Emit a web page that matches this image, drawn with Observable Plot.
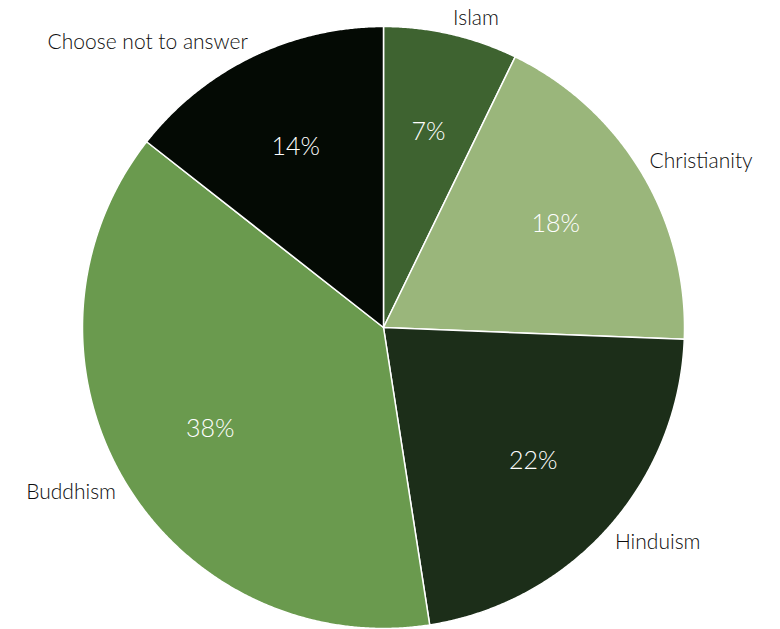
<!DOCTYPE html>
<html>
<head>
<meta charset="utf-8">
<script src="https://cdn.jsdelivr.net/npm/d3@7"></script>
<script src="https://cdn.jsdelivr.net/npm/@observablehq/plot@0.6"></script>
<style>
  html, body { margin: 0; padding: 0; background: #fff; }
  #chart svg { display: block; }
</style>
</head>
<body>
<div id="chart"></div>
<script>
// ---- data ----
const categories = ["Islam", "Christianity", "Hinduism", "Buddhism", "Choose not to answer"];
const shares = [7.2, 18.4, 21.9, 38.0, 14.4];
const percentLabels = ["7%", "18%", "22%", "38%", "14%"];
const sliceColors = ["#3e6330", "#9ab67b", "#1c2e19", "#6a9a4e", "#040a04"];

// ---- geometry (pie layout from d3, drawn through Plot scales) ----
const arcs = d3.pie().sort(null).startAngle(0).endAngle(2 * Math.PI)(shares);
const polyPoints = [];
arcs.forEach((a, i) => {
  const cat = categories[i];
  polyPoints.push({cat, x: 0, y: 0});
  const n = Math.max(2, Math.ceil((a.endAngle - a.startAngle) / 0.005));
  for (let k = 0; k <= n; k++) {
    const t = a.startAngle + (a.endAngle - a.startAngle) * k / n;
    polyPoints.push({cat, x: Math.sin(t), y: Math.cos(t)});
  }
});
const mid = arcs.map(a => (a.startAngle + a.endAngle) / 2);
const inner = arcs.map((a, i) => ({label: percentLabels[i], x: 0.667 * Math.sin(mid[i]), y: 0.667 * Math.cos(mid[i])}));
const outer = arcs.map((a, i) => ({label: categories[i], x: 1.03 * Math.sin(mid[i]), y: 1.03 * Math.cos(mid[i])}));

// outside labels: the label box corner nearest the pie sits on the label radius
const outerText = (filter, textAnchor, lineAnchor) =>
  Plot.text(outer.filter(filter), {x: "x", y: "y", text: "label", fill: "#0d0d0d", fontSize: 21, fontWeight: 300, textAnchor, lineAnchor});

const chart = Plot.plot({
  width: 780,
  height: 629,
  marginLeft: 82,
  marginRight: 96,
  marginTop: 26,
  marginBottom: 1,
  x: {domain: [-1, 1], axis: null},
  y: {domain: [-1, 1], axis: null},
  color: {domain: categories, range: sliceColors},
  style: {fontFamily: "Lato, 'Open Sans', sans-serif", background: "#fff", overflow: "visible"},
  marks: [
    Plot.line(polyPoints, {x: "x", y: "y", z: "cat", fill: "cat", stroke: "#ffffff", strokeWidth: 1.5, curve: "linear-closed", strokeLinejoin: "round"}),
    Plot.text(inner, {x: "x", y: "y", text: "label", fill: "#ffffff", fontSize: 25, fontWeight: 300}),
    outerText(d => d.x >= 0 && d.y >= 0, "start", "bottom"),
    outerText(d => d.x >= 0 && d.y < 0, "start", "top"),
    outerText(d => d.x < 0 && d.y < 0, "end", "top"),
    outerText(d => d.x < 0 && d.y >= 0, "end", "bottom")
  ]
});
document.getElementById("chart").appendChild(chart);
</script>
</body>
</html>
